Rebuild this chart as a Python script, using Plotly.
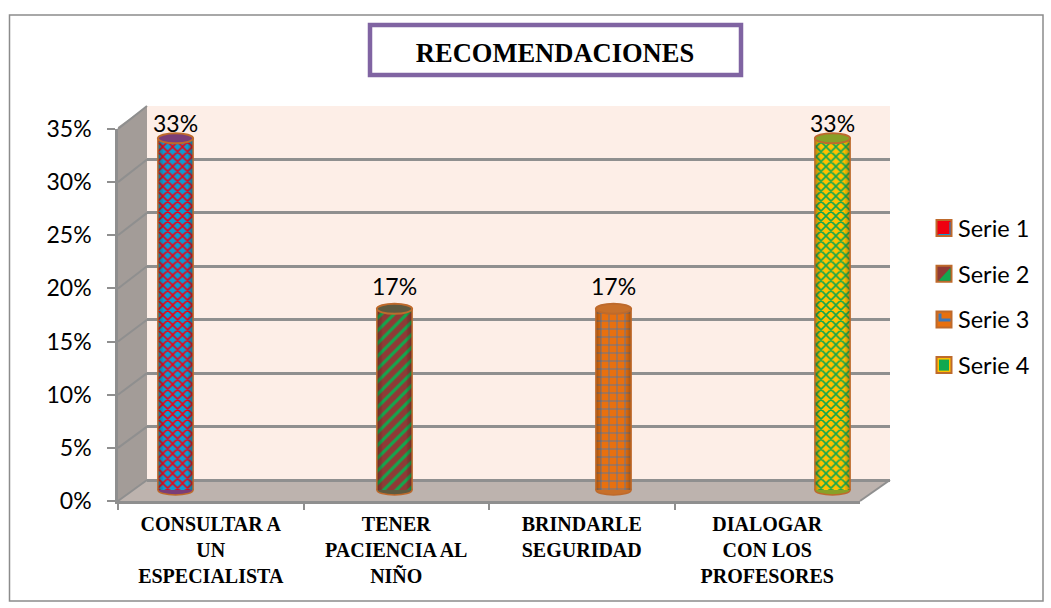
import plotly.graph_objects as go

categories = ["CONSULTAR A<br>UN<br>ESPECIALISTA", "TENER<br>PACIENCIA AL<br>NIÑO",
              "BRINDARLE<br>SEGURIDAD", "DIALOGAR<br>CON LOS<br>PROFESORES"]
series_names = ["Serie 1", "Serie 2", "Serie 3", "Serie 4"]
serie_1 = [33, None, None, None]
serie_2 = [None, 17, None, None]
serie_3 = [None, None, 17, None]
serie_4 = [None, None, None, 33]
all_series = [serie_1, serie_2, serie_3, serie_4]
y_ticks = [0, 5, 10, 15, 20, 25, 30, 35]
y_tick_labels = ["0%", "5%", "10%", "15%", "20%", "25%", "30%", "35%"]

W, H = 1051, 608
def fx(p): return p / W
def fy(p): return 1 - p / H
def poly(pts):
    return "M " + " L ".join(f"{fx(x)},{fy(y)}" for x, y in pts) + " Z"

FONT = "Lato"
SERIF = "Liberation Serif"
RIM = "#BE6A2C"
GRID = "#8F8F8F"

styles = [
    dict(bg="#0F9BD2", fg="#F00010", shape="x", size=7, sol=0.4, top="#7A3E78"),
    dict(bg="#8F3A36", fg="#12A84E", shape="/", size=9, sol=0.35, top="#5E5A40"),
    dict(bg="#E8700F", fg="#3F78B8", shape="+", size=8, sol=0.18, top="#C8702A"),
    dict(bg="#FFC000", fg="#10A850", shape="x", size=7, sol=0.4, top="#88A028"),
]

fig = go.Figure()
BAR_W = 0.19
STEP = 0.1806
shapes = []

# frame, walls
shapes.append(dict(type="rect", xref="paper", yref="paper", x0=fx(9.5), x1=fx(1043), y0=fy(15), y1=fy(601),
                   line=dict(color="#8C8C8C", width=1.5), fillcolor="white", layer="below"))
shapes.append(dict(type="path", xref="paper", yref="paper", path=poly([(147, 106), (890, 106), (890, 480), (147, 480)]),
                   fillcolor="#FDEEE7", line=dict(width=0), layer="below"))
shapes.append(dict(type="path", xref="paper", yref="paper", path=poly([(118, 127), (147, 106), (147, 480), (118, 501)]),
                   fillcolor="#A39C98", line=dict(width=0), layer="below"))
shapes.append(dict(type="path", xref="paper", yref="paper", path=poly([(147, 480), (890, 480), (860, 501), (118, 501)]),
                   fillcolor="#BDB3AE", line=dict(width=0), layer="below"))
shapes.append(dict(type="line", xref="paper", yref="paper", x0=fx(860), y0=fy(501), x1=fx(890), y1=fy(480),
                   line=dict(color=GRID, width=2), layer="below"))
for t in y_ticks:
    yf = 501 - t * 372 / 35
    yb = 480 - t * 374 / 35
    shapes.append(dict(type="line", xref="paper", yref="paper", x0=fx(118), y0=fy(yf), x1=fx(147), y1=fy(yb),
                       line=dict(color=GRID, width=2), layer="below"))

axis_common = dict(type="category", categoryorder="array", categoryarray=categories, range=[-0.5, 3.5], fixedrange=True)

# back plane (gridlines)
fig.add_trace(go.Bar(x=categories, y=[None] * 4, xaxis="x", yaxis="y", showlegend=False, hoverinfo="skip"))
# bars plane
for i, (name, vals, st) in enumerate(zip(series_names, all_series, styles)):
    off = (i - 1.5) * STEP
    fig.add_trace(go.Bar(
        x=categories, y=vals, name=name, xaxis="x2", yaxis="y2", showlegend=False,
        width=BAR_W, offset=off - BAR_W / 2,
        marker=dict(color=st["bg"], line=dict(width=0),
                    pattern=dict(shape=st["shape"], bgcolor=st["bg"], fgcolor=st["fg"], fgopacity=1, size=st["size"],
                                 solidity=st["sol"], fillmode="replace")),
    ))
    for c, v in enumerate(vals):
        if v is None:
            continue
        xc = c + off
        x0, x1 = xc - BAR_W / 2, xc + BAR_W / 2
        # base curve
        shapes.append(dict(type="circle", xref="x2", yref="y2", ysizemode="pixel", yanchor=0, x0=x0, x1=x1, y0=-5, y1=5,
                           fillcolor=st["top"], line=dict(color=RIM, width=1.5), layer="below"))
        # cylinder shading
        for k, op in enumerate([0.30, 0.20, 0.10]):
            wd = BAR_W * 0.05
            for a, b in ((x0 + k * wd, x0 + (k + 1) * wd), (x1 - (k + 1) * wd, x1 - k * wd)):
                shapes.append(dict(type="rect", xref="x2", yref="y2", x0=a, x1=b, y0=0, y1=v,
                                   fillcolor=f"rgba(40,30,20,{op})", line=dict(width=0)))
        # cylinder side rims
        for e in (x0, x1):
            shapes.append(dict(type="line", xref="x2", yref="y2", x0=e, x1=e, y0=0, y1=v,
                               line=dict(color=RIM, width=1.5)))
        # top cap
        shapes.append(dict(type="circle", xref="x2", yref="y2", ysizemode="pixel", yanchor=v, x0=x0, x1=x1, y0=-5, y1=5,
                           fillcolor=st["top"], line=dict(color=RIM, width=2)))
        fig.add_annotation(x=xc, y=v, xref="x2", yref="y2", text=f"{v}%", showarrow=False,
                           yshift=15 if v > 30 else 23, yanchor="middle", xanchor="center",
                           font=dict(family=FONT, size=23, color="black"))
# front plane (axes)
fig.add_trace(go.Bar(x=categories, y=[None] * 4, xaxis="x3", yaxis="y3", showlegend=False, hoverinfo="skip"))

# title box
shapes.append(dict(type="rect", xref="paper", yref="paper", x0=fx(370), x1=fx(741), y0=fy(25), y1=fy(75),
                   line=dict(color="#8064A2", width=4.5), fillcolor="white", layer="below"))

# manual legend
for i, (name, st) in enumerate(zip(series_names, styles)):
    cy = 228 + i * 45.7
    l, r, t, b = 936.5, 951.5, cy - 8, cy + 8
    shapes.append(dict(type="rect", xref="paper", yref="paper", x0=fx(l), x1=fx(r), y0=fy(t), y1=fy(b),
                       fillcolor=st["bg"] if i != 0 else st["fg"], line=dict(color=RIM, width=2)))
    if i == 0:
        shapes.append(dict(type="path", xref="paper", yref="paper",
                           path=poly([(r - 2, t + 2), (r - 1, t + 2), (r - 1, b - 1), (l + 2, b - 1), (l + 2, b - 2), (r - 2, b - 2)]),
                           fillcolor=st["bg"], line=dict(width=0)))
    if i == 1:
        shapes.append(dict(type="path", xref="paper", yref="paper", path=poly([(r - 1, t + 2), (r - 1, b - 1), (l + 2, b - 1)]),
                           fillcolor=st["fg"], line=dict(width=0)))
    if i == 2:
        shapes.append(dict(type="path", xref="paper", yref="paper",
                           path=poly([(l + 2, t + 2), (l + 5, t + 2), (l + 5, cy - 1), (r - 1, cy - 1), (r - 1, cy + 2), (l + 2, cy + 2)]),
                           fillcolor=st["fg"], line=dict(width=0)))
    if i == 3:
        shapes.append(dict(type="rect", xref="paper", yref="paper", x0=fx(l + 2.5), x1=fx(r - 2.5), y0=fy(t + 2.5), y1=fy(b - 2.5),
                           fillcolor=st["fg"], line=dict(width=0)))
    fig.add_annotation(xref="paper", yref="paper", x=fx(958), y=fy(cy), text=name, showarrow=False,
                       xanchor="left", yanchor="middle", xshift=-2, font=dict(family=FONT, size=23.5, color="black"))

fig.update_layout(
    width=W, height=H, margin=dict(l=0, r=0, t=0, b=0, autoexpand=False), autosize=False,
    paper_bgcolor="white", plot_bgcolor="rgba(0,0,0,0)", barmode="overlay", showlegend=False,
    title=dict(text="<b>RECOMENDACIONES</b>", x=555 / W, xanchor="center", y=fy(53), yanchor="middle",
               font=dict(family=SERIF, size=26.5, color="black")),
    shapes=shapes,
    xaxis=dict(domain=[fx(147), fx(890)], anchor="y", visible=False, **axis_common),
    yaxis=dict(domain=[fy(480), fy(106)], anchor="x", range=[0, 35], tickvals=y_ticks, showgrid=True,
               gridcolor=GRID, gridwidth=2.5, showticklabels=False, ticks="", zeroline=True, zerolinecolor=GRID,
               zerolinewidth=2.5, fixedrange=True),
    xaxis2=dict(domain=[fx(133), fx(875)], anchor="y2", visible=False, **axis_common),
    yaxis2=dict(domain=[fy(490 + 1.5 * 373 / 35), fy(117)], anchor="x2", range=[-1.5, 35], visible=False, fixedrange=True),
    xaxis3=dict(domain=[fx(118), fx(860)], anchor="y3", tickson="boundaries", ticks="outside", ticklen=6, tickwidth=2,
                tickcolor=GRID, showline=True, linecolor=GRID, linewidth=2.5, showgrid=False, tickangle=0,
                ticklabelstandoff=3, tickfont=dict(family=SERIF, size=20, color="black", weight="bold"), **axis_common),
    yaxis3=dict(domain=[fy(501), fy(129)], anchor="x3", range=[0, 35], tickmode="array", tickvals=y_ticks,
                ticktext=y_tick_labels, ticks="outside",
                ticklen=8, tickwidth=2, tickcolor=GRID, showline=True, linecolor=GRID, linewidth=2.5, showgrid=False,
                zeroline=False, ticklabelstandoff=11, tickfont=dict(family=FONT, size=23, color="black"), fixedrange=True),
)

fig.write_html("out.html", config=dict(displayModeBar=False),
               post_script="document.body.style.margin='0';document.body.style.overflow='hidden';")
